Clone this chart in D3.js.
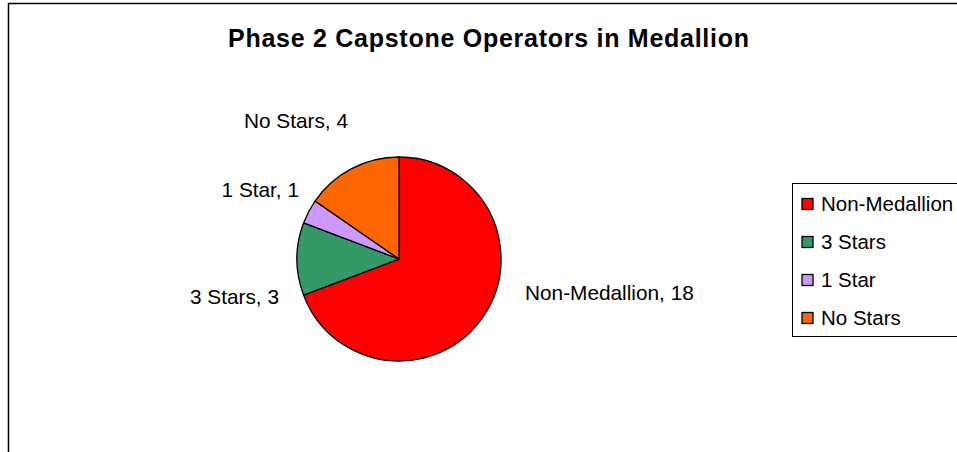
<!DOCTYPE html>
<html><head><meta charset="utf-8">
<script src="https://cdn.jsdelivr.net/npm/d3@7"></script>
<style>body{margin:0;background:#fff}svg{display:block}text{font-family:"Liberation Sans",Arial,sans-serif}</style>
</head><body>
<svg id="c" width="957" height="452"></svg>
<script>
const categories = ["Non-Medallion", "3 Stars", "1 Star", "No Stars"];
const values = [18, 3, 1, 4];
const colors = ["#FF0000", "#339966", "#CC99FF", "#FF6600"];
const title = "Phase 2 Capstone Operators in Medallion";

const svg = d3.select("#c");
// chart frame
svg.append("rect").attr("x", 8.5).attr("y", 3.5).attr("width", 1000).attr("height", 500)
  .attr("fill", "#fff").attr("stroke", "#000").attr("stroke-width", 1.5);

svg.append("text").attr("x", 488.5).attr("y", 47).attr("text-anchor", "middle")
  .attr("font-size", 25).attr("font-weight", "bold")
  .attr("textLength", 521).attr("lengthAdjust", "spacing").text(title);

const data = categories.map((c, i) => ({name: c, value: values[i], color: colors[i]}));
const pie = d3.pie().sort(null).value(d => d.value);
const arcs = pie(data);
const cx = 399, cy = 259, r = 102;
const arc = d3.arc().innerRadius(0).outerRadius(r);
const g = svg.append("g").attr("transform", `translate(${cx},${cy})`);
g.selectAll("path").data(arcs).join("path").attr("d", arc)
  .attr("fill", d => d.data.color).attr("stroke", "#000").attr("stroke-width", 1.3);

// labels placed outside
const labelPos = [[525, 300, "start"], [279, 304, "end"], [299, 197, "end"], [348, 128, "end"]];
svg.selectAll("text.lbl").data(arcs).join("text").attr("class", "lbl")
  .attr("x", (d, i) => labelPos[i][0]).attr("y", (d, i) => labelPos[i][1])
  .attr("text-anchor", (d, i) => labelPos[i][2])
  .attr("font-size", 20.8).attr("fill", "#000")
  .text(d => `${d.data.name}, ${d.data.value}`);

// legend
const lg = svg.append("g");
lg.append("rect").attr("x", 792.5).attr("y", 183.5).attr("width", 200).attr("height", 153)
  .attr("fill", "#fff").attr("stroke", "#000").attr("stroke-width", 1);
const yScale = d3.scalePoint().domain(categories).range([204, 318]);
const items = lg.selectAll("g.it").data(data).join("g").attr("class", "it")
  .attr("transform", d => `translate(0,${yScale(d.name)})`);
items.append("rect").attr("x", 802).attr("y", -5.5).attr("width", 11).attr("height", 11)
  .attr("fill", d => d.color).attr("stroke", "#000").attr("stroke-width", 1.3);
items.append("text").attr("x", 821).attr("y", 7).attr("font-size", 20.5).text(d => d.name);
</script>
</body></html>
